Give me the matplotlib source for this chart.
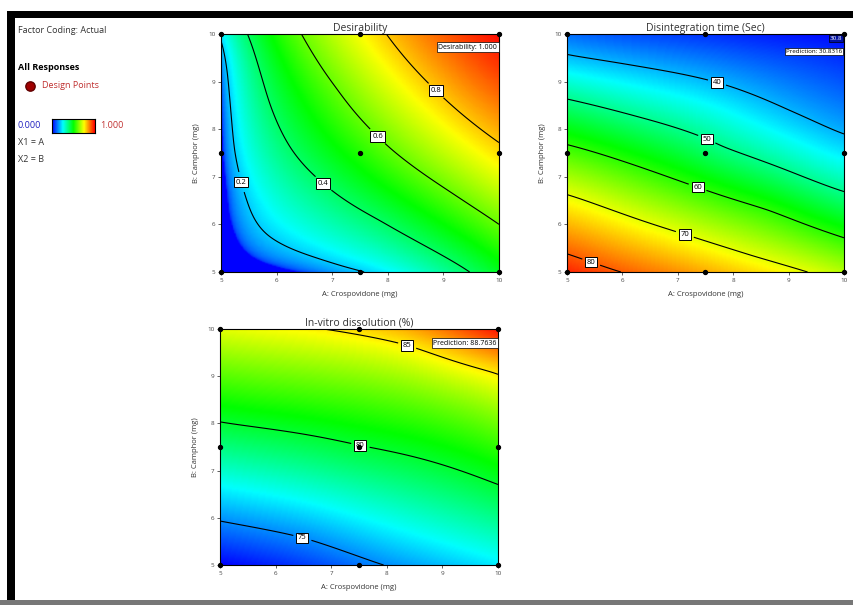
import numpy as np
import matplotlib.pyplot as plt
from matplotlib.colors import LinearSegmentedColormap

plt.rcParams['font.family'] = ['Open Sans', 'DejaVu Sans']

# design points (A: Crospovidone, B: Camphor)
design_a = [5, 5, 5, 7.5, 7.5, 7.5, 10, 10, 10]
design_b = [5, 7.5, 10, 5, 7.5, 10, 5, 7.5, 10]

# points: (A, B, value)
des_a = [5.05, 5.12, 5.2, 5.4, 5.58, 6.12, 6.73, 7.2,
         5.47, 5.83, 6.24, 6.87, 7.91, 8.81, 9.53,
         6.39, 7.14, 7.86, 8.04, 9.12, 9.96,
         7.95, 8.9, 9.96, 10, 10,
         5, 5, 5, 5, 5]
des_b = [10, 8.8, 7.56, 6.9, 6.51, 5.74, 5.32, 5.0,
         10, 8.55, 7.56, 6.91, 6.16, 5.46, 5.04,
         10, 8.89, 7.84, 7.56, 6.72, 6.05,
         10, 8.82, 7.71, 10, 5,
         5, 6.25, 7.5, 8.75, 10]
des_val = [0.2] * 8 + [0.4] * 7 + [0.6] * 6 + [0.8] * 3 + [1.0, 0.45] + [0.0] * 5
des_levels = [0.2, 0.4, 0.6, 0.8]
des_label_pos = [(5.4, 6.9), (6.87, 6.9), (7.84, 7.88), (8.9, 8.85)]

dt_a = [5, 6.32, 7.71, 8.97, 10,
        5, 6.26, 7.55, 7.76, 9.26, 10,
        5, 5.36, 7.36, 8.66, 10,
        5, 5.96, 7.13, 8.36, 9.44,
        5, 5.45, 5.9, 10]
dt_b = [9.52, 9.31, 8.99, 8.40, 7.82,
        8.66, 8.26, 7.86, 7.56, 7.0, 6.66,
        7.69, 7.56, 6.79, 6.34, 5.71,
        6.66, 6.24, 5.8, 5.32, 5.0,
        5.38, 5.2, 5.0, 10]
dt_val = [40] * 5 + [50] * 6 + [60] * 5 + [70] * 5 + [80] * 3 + [30.83]
dt_levels = [40, 50, 60, 70, 80]
dt_label_pos = [(7.71, 8.99), (7.55, 7.86), (7.36, 6.79), (7.13, 5.8), (5.45, 5.25)]
dt_range = (30, 85)

diss_a = [6.92, 8.38, 10, 5.04, 7.52, 10, 5, 6.49, 7.88, 10]
diss_b = [10, 9.7, 9.15, 8.0, 7.5, 6.69, 5.93, 5.61, 5.0, 10]
diss_val = [85, 85, 85, 80, 80, 80, 75, 75, 75, 88.76]
diss_levels = [75, 80, 85]
diss_label_pos = [(6.49, 5.61), (7.52, 7.5), (8.38, 9.7)]

cmap = LinearSegmentedColormap.from_list(
    'de', ['#0000ff', '#00ffff', '#00ff00', '#ffff00', '#ff0000'])


def coded(a, b):
    return np.column_stack([(np.ravel(a) - 7.5) / 2.5, (np.ravel(b) - 7.5) / 2.5])


def tps_kernel(p, q):
    r = np.sqrt(((p[:, None, :] - q[None, :, :]) ** 2).sum(-1))
    with np.errstate(divide='ignore', invalid='ignore'):
        k = r * r * np.log(r)
    return np.nan_to_num(k)


def fit_surface(a, b, v, smooth):
    # smoothing thin-plate spline through the read values
    pts = coded(np.asarray(a, float), np.asarray(b, float))
    n = len(pts)
    P = np.column_stack([np.ones(n), pts])
    M = np.zeros((n + 3, n + 3))
    M[:n, :n] = tps_kernel(pts, pts) + smooth * np.eye(n)
    M[:n, n:] = P
    M[n:, :n] = P.T
    rhs = np.concatenate([np.asarray(v, float), np.zeros(3)])
    w = np.linalg.solve(M, rhs)
    g = np.linspace(5, 10, 200)
    X, Y = np.meshgrid(g, g)
    q = coded(X, Y)
    Z = tps_kernel(q, pts) @ w[:n] + np.column_stack([np.ones(len(q)), q]) @ w[n:]
    return X, Y, Z.reshape(X.shape)


def panel(rect, title, X, Y, Z, levels, label_pos, fmt, vmin, vmax):
    ax = fig.add_axes(rect)
    ax.pcolormesh(X, Y, Z, cmap=cmap, vmin=vmin, vmax=vmax, shading='gouraud')
    cs = ax.contour(X, Y, Z, levels=levels, colors='black', linewidths=0.8)
    labels = ax.clabel(cs, fmt=fmt, fontsize=5.5, manual=label_pos, inline=True)
    for t in labels:
        t.set_rotation(0)
        t.set_bbox(dict(facecolor='white', edgecolor='black', pad=1.2, linewidth=0.7))
    ax.scatter(design_a, design_b, s=8, c='black', zorder=5, clip_on=False)
    ax.set_xlim(5, 10)
    ax.set_ylim(5, 10)
    ax.set_xticks([5, 6, 7, 8, 9, 10])
    ax.set_yticks([5, 6, 7, 8, 9, 10])
    ax.tick_params(labelsize=4.5, length=2, width=0.6, pad=2, colors='#444444')
    ax.set_xlabel('A: Crospovidone (mg)', fontsize=5.5, color='#333333', labelpad=6)
    ax.set_ylabel('B: Camphor (mg)', fontsize=5.5, color='#333333', labelpad=6)
    ax.set_title(title, fontsize=7.5, color='#333333', pad=2)
    for s in ax.spines.values():
        s.set_linewidth(0.8)
    return ax


fig = plt.figure(figsize=(8.54, 6.05), dpi=100)

# desirability: spline on D**2.5, shown as D
p = 2.5
X, Y, G = fit_surface(des_a, des_b, np.asarray(des_val) ** p, smooth=0.4)
D = np.clip(G, 0, 1) ** (1 / p)
ax1 = panel([0.2588, 0.5504, 0.3255, 0.3934], 'Desirability', X, Y, D,
            des_levels, des_label_pos, '%.1f', 0, 1)
ax1.text(9.97, 9.72, 'Desirability: 1.000', fontsize=5, ha='right', va='center',
         bbox=dict(facecolor='white', edgecolor='black', pad=1.0, linewidth=0.5))

X, Y, T = fit_surface(dt_a, dt_b, dt_val, smooth=0.15)
ax2 = panel([0.6639, 0.5504, 0.3244, 0.3934], 'Disintegration time (Sec)', X, Y, T,
            dt_levels, dt_label_pos, '%d', *dt_range)
ax2.text(9.97, 9.9, '30.8', fontsize=4.5, ha='right', va='center', color='white',
         bbox=dict(facecolor='#0010a0', edgecolor='black', pad=0.6, linewidth=0.5))
ax2.text(9.97, 9.63, 'Prediction: 30.8316', fontsize=4.5, ha='right', va='center',
         bbox=dict(facecolor='white', edgecolor='black', pad=0.8, linewidth=0.5))

X, Y, S = fit_surface(diss_a, diss_b, diss_val, smooth=0.15)
ax3 = panel([0.2576, 0.0661, 0.3255, 0.3901], 'In-vitro dissolution (%)', X, Y, S,
            diss_levels, diss_label_pos, '%d', S.min(), 88.76)
ax3.text(9.97, 9.7, 'Prediction: 88.7636', fontsize=5, ha='right', va='center',
         bbox=dict(facecolor='white', edgecolor='black', pad=1.0, linewidth=0.5))

# left legend block
lg = fig.add_axes([0.0, 0.0, 1, 1], facecolor='none')
lg.set_xlim(0, 854)
lg.set_ylim(605, 0)
lg.axis('off')
fig.text(0.021, 0.950, 'Factor Coding: Actual', fontsize=6.5, color='#333333', va='center')
fig.text(0.021, 0.888, 'All Responses', fontsize=6.5, fontweight='bold', va='center')
lg.scatter([30], [86], s=45, c='#a00000', edgecolors='#600000')
fig.text(0.049, 0.858, 'Design Points', fontsize=6.5, color='#c03030', va='center')
fig.text(0.021, 0.792, '0.000', fontsize=6.5, color='#2020c0', va='center')
cb = fig.add_axes([0.061, 0.780, 0.050, 0.023])
cb.imshow(np.linspace(0, 1, 100)[None, :], aspect='auto', cmap=cmap)
cb.set_xticks([])
cb.set_yticks([])
fig.text(0.117, 0.792, '1.000', fontsize=6.5, color='#c03030', va='center')
fig.text(0.021, 0.764, 'X1 = A', fontsize=6.5, color='#333333', va='center')
fig.text(0.021, 0.736, 'X2 = B', fontsize=6.5, color='#333333', va='center')

# frame around the screenshot
lg.fill_between([7, 854], 11, 18, color='black', lw=0)
lg.fill_between([7, 15], 11, 600, color='black', lw=0)
lg.fill_between([0, 854], 600, 605, color='#777777', lw=0)

fig.savefig('out.png', dpi=100)
